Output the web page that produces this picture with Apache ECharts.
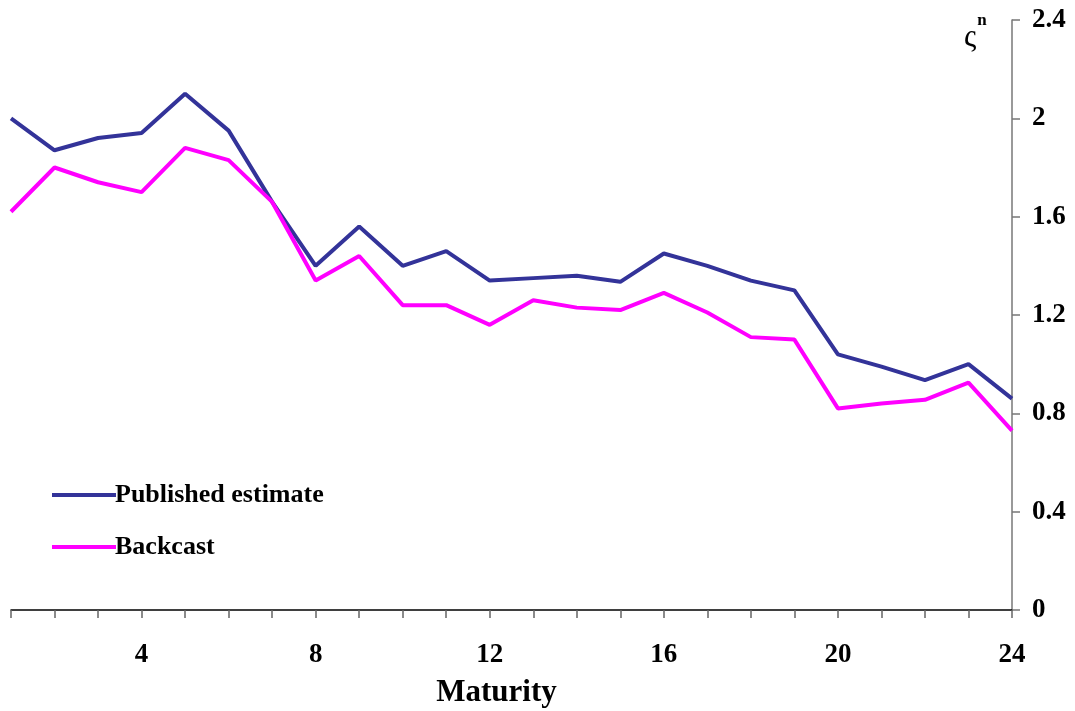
<!DOCTYPE html>
<html>
<head>
<meta charset="utf-8">
<script src="https://cdn.jsdelivr.net/npm/echarts@6/dist/echarts.min.js"></script>
<style>
html, body { margin: 0; padding: 0; background: #fff; }
#chart { width: 1075px; height: 711px; }
</style>
</head>
<body>
<div id="chart"></div>
<script>
var maturity = ['1', '2', '3', '4', '5', '6', '7', '8', '9', '10', '11', '12',
    '13', '14', '15', '16', '17', '18', '19', '20', '21', '22', '23', '24'];
var published = [2.00, 1.87, 1.92, 1.94, 2.10, 1.95, 1.66, 1.40, 1.56, 1.40, 1.46, 1.34,
    1.35, 1.36, 1.335, 1.45, 1.40, 1.34, 1.30, 1.04, 0.99, 0.935, 1.00, 0.86];
var backcast = [1.62, 1.80, 1.74, 1.70, 1.88, 1.83, 1.66, 1.34, 1.44, 1.24, 1.24, 1.16,
    1.26, 1.23, 1.22, 1.29, 1.21, 1.11, 1.10, 0.82, 0.84, 0.855, 0.925, 0.73];

var font = 'Liberation Serif';
var chart = echarts.init(document.getElementById('chart'));

var option = {
    animation: false,
    grid: { left: 11, right: 63, top: 20, bottom: 101, outerBoundsMode: 'none', containLabel: false },
    legend: {
        orient: 'vertical',
        left: 47,
        top: 477,
        icon: 'rect',
        itemWidth: 64,
        itemHeight: 4,
        itemGap: 26,
        data: ['Published estimate', 'Backcast'],
        textStyle: { fontFamily: font, fontWeight: 'bold', fontSize: 26, color: '#000', padding: [0, 0, 0, -6] }
    },
    graphic: [{
        type: 'text',
        left: 964,
        top: 12,
        style: {
            text: '{a|ς}{b|n}',
            rich: {
                a: { fontFamily: font, fontSize: 31, fill: '#000', padding: [10, 0, 0, 0] },
                b: { fontFamily: font, fontSize: 17, fontWeight: 'bold', fill: '#000', verticalAlign: 'top', padding: [0, 0, 18, 1] }
            }
        }
    }],
    xAxis: {
        type: 'category',
        data: maturity,
        boundaryGap: false,
        name: 'Maturity',
        nameLocation: 'middle',
        nameGap: 67,
        nameTextStyle: { fontFamily: font, fontWeight: 'bold', fontSize: 31, color: '#000', padding: [0, 0, 0, -30] },
        axisLine: { lineStyle: { color: '#000', width: 1.5 } },
        axisTick: { interval: 0, length: 8, lineStyle: { color: '#666', width: 1.5 } },
        axisLabel: {
            interval: function (i, v) { return Number(v) % 4 === 0; },
            margin: 32,
            fontFamily: font, fontWeight: 'bold', fontSize: 27, color: '#000'
        },
        splitLine: { show: false }
    },
    yAxis: {
        type: 'value',
        position: 'right',
        min: 0,
        max: 2.4,
        interval: 0.4,
        axisLine: { show: true, lineStyle: { color: '#777', width: 1.5 } },
        axisTick: { show: true, inside: false, length: 8, lineStyle: { color: '#777', width: 1.5 } },
        axisLabel: { margin: 20, padding: [6, 0, 0, 0], fontFamily: font, fontWeight: 'bold', fontSize: 27, color: '#000' },
        splitLine: { show: false }
    },
    series: [{
        name: 'Published estimate',
        type: 'line',
        data: published,
        symbol: 'none',
        color: '#333399',
        lineStyle: { color: '#333399', width: 4 }
    }, {
        name: 'Backcast',
        type: 'line',
        data: backcast,
        symbol: 'none',
        color: '#ff00ff',
        lineStyle: { color: '#ff00ff', width: 4 }
    }]
};
chart.setOption(option);
</script>
</body>
</html>
